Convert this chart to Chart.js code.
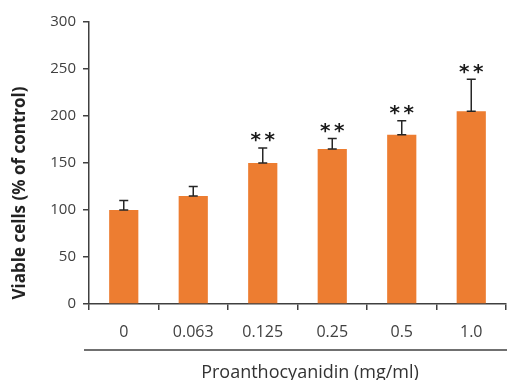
<!DOCTYPE html>
<html>
<head>
<meta charset="utf-8">
<script src="https://cdn.jsdelivr.net/npm/chart.js@4"></script>
<style>
  html, body { margin: 0; padding: 0; background: #fff; }
  #wrap { width: 512px; height: 380px; }
</style>
</head>
<body>
<div id="wrap"><canvas id="chart" width="512" height="380"></canvas></div>
<script>
// Cell viability vs. proanthocyanidin dose
const doses = ["0", "0.063", "0.125", "0.25", "0.5", "1.0"];
const viability = [100, 115, 150, 165, 180, 205];
const viabilityErr = [10, 10, 16, 11, 15, 34];
const significance = ["", "", "**", "**", "**", "**"];
const yTicks = [0, 50, 100, 150, 200, 250, 300];
const xTitle = "Proanthocyanidin (mg/ml)";
const yTitle = "Viable cells (% of control)";

const AXIS = "#404040";
const FONT = "'Open Sans', 'Liberation Sans', sans-serif";

// Upward-only error bars plus a small cap sitting on the bar top
const errorBars = {
  id: "errorBars",
  afterDatasetsDraw(chart) {
    const { ctx, scales: { y } } = chart;
    const meta = chart.getDatasetMeta(0);
    ctx.save();
    ctx.strokeStyle = "#262626";
    ctx.lineWidth = 1.5;
    meta.data.forEach((bar, i) => {
      const x = bar.x;
      const yTop = y.getPixelForValue(viability[i] + viabilityErr[i]);
      const yBase = y.getPixelForValue(viability[i]);
      ctx.beginPath();
      ctx.moveTo(x, yBase);
      ctx.lineTo(x, yTop);
      ctx.moveTo(x - 4.5, yTop);
      ctx.lineTo(x + 4.5, yTop);
      ctx.moveTo(x - 4.5, yBase);
      ctx.lineTo(x + 4.5, yBase);
      ctx.stroke();

      const mark = significance[i];
      if (mark) {
        ctx.fillStyle = "#1a1a1a";
        ctx.font = "bold 20px 'DejaVu Sans', sans-serif";
        ctx.textAlign = "center";
        ctx.textBaseline = "middle";
        const stars = mark.split("");
        stars.forEach((s, k) => {
          const dx = (k - (stars.length - 1) / 2) * 14;
          ctx.fillText(s, x + dx, yTop - 7);
        });
      }
    });
    ctx.restore();
  },
};

// Rule under the dose labels, and both axis titles
const axisDecor = {
  id: "axisDecor",
  afterDraw(chart) {
    const { ctx } = chart;
    ctx.save();
    ctx.strokeStyle = AXIS;
    ctx.lineWidth = 1.5;
    ctx.beginPath();
    ctx.moveTo(84, 350);
    ctx.lineTo(507, 350);
    ctx.stroke();

    ctx.fillStyle = "#333";
    ctx.textAlign = "center";
    ctx.textBaseline = "middle";
    ctx.font = `18px ${FONT}`;
    ctx.fillText(xTitle, 310, 373);

    ctx.translate(20.5, 193);
    ctx.rotate(-Math.PI / 2);
    ctx.fillStyle = "#222";
    ctx.font = `bold 17px ${FONT}`;
    ctx.fillText(yTitle, 0, 0);
    ctx.restore();
  },
};

new Chart(document.getElementById("chart"), {
  type: "bar",
  plugins: [errorBars, axisDecor],
  data: {
    labels: doses,
    datasets: [{
      data: viability,
      backgroundColor: "#ED7D31",
      borderWidth: 0,
      categoryPercentage: 1,
      barPercentage: 0.42,
    }],
  },
  options: {
    responsive: false,
    animation: false,
    layout: { padding: { top: 22, right: 6, left: 0, bottom: 0 } },
    plugins: { legend: { display: false }, tooltip: { enabled: false } },
    scales: {
      x: {
        afterFit: (s) => { s.height = 76; },
        border: { color: AXIS, width: 1.5 },
        grid: { display: true, drawOnChartArea: false, drawTicks: true, tickLength: 6, color: AXIS, lineWidth: 1.5, offset: true },
        ticks: { color: "#404040", font: { family: FONT, size: 16 }, padding: 13 },
      },
      y: {
        min: 0,
        max: 300,
        afterFit: (s) => { s.width = 89; },
        afterBuildTicks: (s) => { s.ticks = yTicks.map((v) => ({ value: v })); },
        border: { color: AXIS, width: 1.5 },
        grid: { display: true, drawOnChartArea: false, drawTicks: true, tickLength: 6, color: AXIS, lineWidth: 1.5 },
        ticks: { color: "#404040", font: { family: FONT, size: 15 }, padding: 7 },
      },
    },
  },
});
</script>
</body>
</html>
